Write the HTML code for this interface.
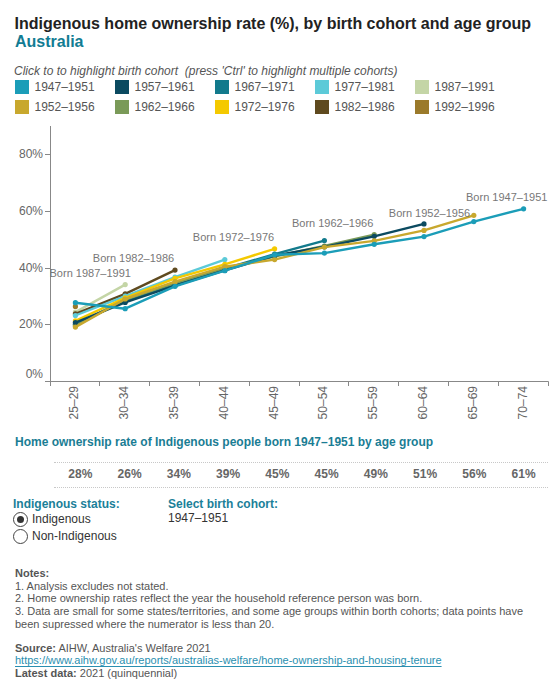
<!DOCTYPE html>
<html><head><meta charset="utf-8">
<style>
html,body{margin:0;padding:0;background:#fff;}
body{width:560px;height:700px;position:relative;overflow:hidden;font-family:"Liberation Sans",sans-serif;}
.abs{position:absolute;white-space:nowrap;}
.title{left:14.6px;top:15px;font-size:16px;line-height:18px;font-weight:bold;color:#222;}
.sub{left:15px;top:33px;font-size:16px;line-height:18px;font-weight:bold;color:#127c93;}
.click{left:14px;top:64px;font-size:12px;line-height:14px;font-style:italic;color:#555;}
.lg{position:absolute;height:14px;white-space:nowrap;}
.sw{position:absolute;left:0;top:0;width:14px;height:14px;}
.lt{position:absolute;left:19.5px;top:0;font-size:12px;line-height:14px;color:#555;}
svg{position:absolute;left:0;top:0;}
.ax{font-size:12px;fill:#666;font-family:"Liberation Sans",sans-serif;}
.lb{font-size:11px;fill:#777;font-family:"Liberation Sans",sans-serif;}
.h2{left:15px;top:435px;font-size:12px;line-height:14px;font-weight:bold;color:#1a7d94;}
.dot{position:absolute;left:54px;width:494px;height:0;border-top:1px dotted #c8c8c8;}
.tv{position:absolute;top:467px;width:49.25px;text-align:center;font-size:12px;line-height:14px;font-weight:bold;color:#666;}
.h3{font-size:12px;line-height:14px;font-weight:bold;color:#1b7f99;}
.rt{font-size:12px;line-height:14px;color:#333;}
.radio{position:absolute;width:13px;height:13px;border:1px solid #444;box-sizing:content-box;border-radius:50%;background:#fff;}
.radio.on::after{content:"";position:absolute;left:3px;top:3px;width:7px;height:7px;border-radius:50%;background:#333;}
.notes{left:15px;top:567px;font-size:11px;line-height:12.65px;color:#555;}
.src{left:15px;top:642px;font-size:11px;line-height:12.3px;color:#555;}
a{color:#2a8fb0;text-decoration:underline;text-underline-offset:2px;}
</style></head><body>
<div class="abs title">Indigenous home ownership rate (%), by birth cohort and age group</div>
<div class="abs sub">Australia</div>
<div class="abs click">Click to to highlight birth cohort &nbsp;(press 'Ctrl' to highlight multiple cohorts)</div>
<div class="lg" style="left:15px;top:80px"><span class="sw" style="background:#1b9db8"></span><span class="lt">1947–1951</span></div><div class="lg" style="left:115px;top:80px"><span class="sw" style="background:#0b4a60"></span><span class="lt">1957–1961</span></div><div class="lg" style="left:215px;top:80px"><span class="sw" style="background:#127a8c"></span><span class="lt">1967–1971</span></div><div class="lg" style="left:315px;top:80px"><span class="sw" style="background:#5ccad8"></span><span class="lt">1977–1981</span></div><div class="lg" style="left:415px;top:80px"><span class="sw" style="background:#c4d5a6"></span><span class="lt">1987–1991</span></div><div class="lg" style="left:15px;top:100px"><span class="sw" style="background:#c8a82e"></span><span class="lt">1952–1956</span></div><div class="lg" style="left:115px;top:100px"><span class="sw" style="background:#7a9a58"></span><span class="lt">1962–1966</span></div><div class="lg" style="left:215px;top:100px"><span class="sw" style="background:#f4c900"></span><span class="lt">1972–1976</span></div><div class="lg" style="left:315px;top:100px"><span class="sw" style="background:#5f4a1f"></span><span class="lt">1982–1986</span></div><div class="lg" style="left:415px;top:100px"><span class="sw" style="background:#9b7a2b"></span><span class="lt">1992–1996</span></div>
<svg width="560" height="430" viewBox="0 0 560 430">
<line x1="50.5" y1="126" x2="50.5" y2="381.5" stroke="#888" stroke-width="1"/>
<line x1="45" y1="381.5" x2="548.5" y2="381.5" stroke="#888" stroke-width="1"/>
<text x="43" y="378.0" text-anchor="end" class="ax">0%</text>
<line x1="45" y1="324.5" x2="50.5" y2="324.5" stroke="#888" stroke-width="1"/>
<text x="43" y="328.0" text-anchor="end" class="ax">20%</text>
<line x1="45" y1="268.5" x2="50.5" y2="268.5" stroke="#888" stroke-width="1"/>
<text x="43" y="272.0" text-anchor="end" class="ax">40%</text>
<line x1="45" y1="211.5" x2="50.5" y2="211.5" stroke="#888" stroke-width="1"/>
<text x="43" y="215.0" text-anchor="end" class="ax">60%</text>
<line x1="45" y1="154.5" x2="50.5" y2="154.5" stroke="#888" stroke-width="1"/>
<text x="43" y="158.0" text-anchor="end" class="ax">80%</text>
<line x1="50.5" y1="381.5" x2="50.5" y2="386" stroke="#888" stroke-width="1"/>
<line x1="99.5" y1="381.5" x2="99.5" y2="386" stroke="#888" stroke-width="1"/>
<line x1="149.5" y1="381.5" x2="149.5" y2="386" stroke="#888" stroke-width="1"/>
<line x1="199.5" y1="381.5" x2="199.5" y2="386" stroke="#888" stroke-width="1"/>
<line x1="249.5" y1="381.5" x2="249.5" y2="386" stroke="#888" stroke-width="1"/>
<line x1="299.5" y1="381.5" x2="299.5" y2="386" stroke="#888" stroke-width="1"/>
<line x1="348.5" y1="381.5" x2="348.5" y2="386" stroke="#888" stroke-width="1"/>
<line x1="398.5" y1="381.5" x2="398.5" y2="386" stroke="#888" stroke-width="1"/>
<line x1="448.5" y1="381.5" x2="448.5" y2="386" stroke="#888" stroke-width="1"/>
<line x1="498.5" y1="381.5" x2="498.5" y2="386" stroke="#888" stroke-width="1"/>
<line x1="548.5" y1="381.5" x2="548.5" y2="386" stroke="#888" stroke-width="1"/>
<text transform="translate(78.4,386) rotate(-90)" text-anchor="end" class="ax">25–29</text>
<text transform="translate(128.2,386) rotate(-90)" text-anchor="end" class="ax">30–34</text>
<text transform="translate(178.0,386) rotate(-90)" text-anchor="end" class="ax">35–39</text>
<text transform="translate(227.8,386) rotate(-90)" text-anchor="end" class="ax">40–44</text>
<text transform="translate(277.6,386) rotate(-90)" text-anchor="end" class="ax">45–49</text>
<text transform="translate(327.4,386) rotate(-90)" text-anchor="end" class="ax">50–54</text>
<text transform="translate(377.2,386) rotate(-90)" text-anchor="end" class="ax">55–59</text>
<text transform="translate(427.0,386) rotate(-90)" text-anchor="end" class="ax">60–64</text>
<text transform="translate(476.8,386) rotate(-90)" text-anchor="end" class="ax">65–69</text>
<text transform="translate(526.6,386) rotate(-90)" text-anchor="end" class="ax">70–74</text>
<circle cx="75.4" cy="306.4" r="2.6" fill="#9b7a2b"/>
<polyline points="75.4,312.1 125.2,284.6" fill="none" stroke="#c4d5a6" stroke-width="2.4" stroke-linejoin="round"/>
<circle cx="75.4" cy="312.1" r="2.6" fill="#c4d5a6"/>
<circle cx="125.2" cy="284.6" r="2.6" fill="#c4d5a6"/>
<polyline points="75.4,313.8 125.2,293.9 175.0,270.1" fill="none" stroke="#5f4a1f" stroke-width="2.4" stroke-linejoin="round"/>
<circle cx="75.4" cy="313.8" r="2.6" fill="#5f4a1f"/>
<circle cx="125.2" cy="293.9" r="2.6" fill="#5f4a1f"/>
<circle cx="175.0" cy="270.1" r="2.6" fill="#5f4a1f"/>
<polyline points="75.4,315.5 125.2,296.2 175.0,277.2 224.8,259.6" fill="none" stroke="#5ccad8" stroke-width="2.4" stroke-linejoin="round"/>
<circle cx="75.4" cy="315.5" r="2.6" fill="#5ccad8"/>
<circle cx="125.2" cy="296.2" r="2.6" fill="#5ccad8"/>
<circle cx="175.0" cy="277.2" r="2.6" fill="#5ccad8"/>
<circle cx="224.8" cy="259.6" r="2.6" fill="#5ccad8"/>
<polyline points="75.4,320.9 125.2,297.9 175.0,278.3 224.8,264.4 274.6,248.8" fill="none" stroke="#f4c900" stroke-width="2.4" stroke-linejoin="round"/>
<circle cx="75.4" cy="320.9" r="2.6" fill="#f4c900"/>
<circle cx="125.2" cy="297.9" r="2.6" fill="#f4c900"/>
<circle cx="175.0" cy="278.3" r="2.6" fill="#f4c900"/>
<circle cx="224.8" cy="264.4" r="2.6" fill="#f4c900"/>
<circle cx="274.6" cy="248.8" r="2.6" fill="#f4c900"/>
<polyline points="75.4,324.3 125.2,300.7 175.0,284.9 224.8,268.7 274.6,254.2 324.4,240.6" fill="none" stroke="#127a8c" stroke-width="2.4" stroke-linejoin="round"/>
<circle cx="75.4" cy="324.3" r="2.6" fill="#127a8c"/>
<circle cx="125.2" cy="300.7" r="2.6" fill="#127a8c"/>
<circle cx="175.0" cy="284.9" r="2.6" fill="#127a8c"/>
<circle cx="224.8" cy="268.7" r="2.6" fill="#127a8c"/>
<circle cx="274.6" cy="254.2" r="2.6" fill="#127a8c"/>
<circle cx="324.4" cy="240.6" r="2.6" fill="#127a8c"/>
<polyline points="75.4,325.7 125.2,299.6 175.0,283.2 224.8,268.4 274.6,256.5 324.4,246.0 374.2,234.6" fill="none" stroke="#7a9a58" stroke-width="2.4" stroke-linejoin="round"/>
<circle cx="75.4" cy="325.7" r="2.6" fill="#7a9a58"/>
<circle cx="125.2" cy="299.6" r="2.6" fill="#7a9a58"/>
<circle cx="175.0" cy="283.2" r="2.6" fill="#7a9a58"/>
<circle cx="224.8" cy="268.4" r="2.6" fill="#7a9a58"/>
<circle cx="274.6" cy="256.5" r="2.6" fill="#7a9a58"/>
<circle cx="324.4" cy="246.0" r="2.6" fill="#7a9a58"/>
<circle cx="374.2" cy="234.6" r="2.6" fill="#7a9a58"/>
<polyline points="75.4,322.6 125.2,302.4 175.0,285.7 224.8,270.4 274.6,255.6 324.4,246.8 374.2,236.3 424.0,223.9" fill="none" stroke="#0b4a60" stroke-width="2.4" stroke-linejoin="round"/>
<circle cx="75.4" cy="322.6" r="2.6" fill="#0b4a60"/>
<circle cx="125.2" cy="302.4" r="2.6" fill="#0b4a60"/>
<circle cx="175.0" cy="285.7" r="2.6" fill="#0b4a60"/>
<circle cx="224.8" cy="270.4" r="2.6" fill="#0b4a60"/>
<circle cx="274.6" cy="255.6" r="2.6" fill="#0b4a60"/>
<circle cx="324.4" cy="246.8" r="2.6" fill="#0b4a60"/>
<circle cx="374.2" cy="236.3" r="2.6" fill="#0b4a60"/>
<circle cx="424.0" cy="223.9" r="2.6" fill="#0b4a60"/>
<polyline points="75.4,327.1 125.2,299.0 175.0,281.7 224.8,266.7 274.6,259.6 324.4,247.1 374.2,240.9 424.0,230.4 473.8,215.3" fill="none" stroke="#c8a82e" stroke-width="2.4" stroke-linejoin="round"/>
<circle cx="75.4" cy="327.1" r="2.6" fill="#c8a82e"/>
<circle cx="125.2" cy="299.0" r="2.6" fill="#c8a82e"/>
<circle cx="175.0" cy="281.7" r="2.6" fill="#c8a82e"/>
<circle cx="224.8" cy="266.7" r="2.6" fill="#c8a82e"/>
<circle cx="274.6" cy="259.6" r="2.6" fill="#c8a82e"/>
<circle cx="324.4" cy="247.1" r="2.6" fill="#c8a82e"/>
<circle cx="374.2" cy="240.9" r="2.6" fill="#c8a82e"/>
<circle cx="424.0" cy="230.4" r="2.6" fill="#c8a82e"/>
<circle cx="473.8" cy="215.3" r="2.6" fill="#c8a82e"/>
<polyline points="75.4,302.7 125.2,308.7 175.0,286.3 224.8,270.7 274.6,254.8 324.4,253.1 374.2,244.3 424.0,236.6 473.8,221.6 523.6,208.8" fill="none" stroke="#1b9db8" stroke-width="2.4" stroke-linejoin="round"/>
<circle cx="75.4" cy="302.7" r="2.6" fill="#1b9db8"/>
<circle cx="125.2" cy="308.7" r="2.6" fill="#1b9db8"/>
<circle cx="175.0" cy="286.3" r="2.6" fill="#1b9db8"/>
<circle cx="224.8" cy="270.7" r="2.6" fill="#1b9db8"/>
<circle cx="274.6" cy="254.8" r="2.6" fill="#1b9db8"/>
<circle cx="324.4" cy="253.1" r="2.6" fill="#1b9db8"/>
<circle cx="374.2" cy="244.3" r="2.6" fill="#1b9db8"/>
<circle cx="424.0" cy="236.6" r="2.6" fill="#1b9db8"/>
<circle cx="473.8" cy="221.6" r="2.6" fill="#1b9db8"/>
<circle cx="523.6" cy="208.8" r="2.6" fill="#1b9db8"/>
<text x="130.9" y="277.0" text-anchor="end" class="lb">Born 1987–1991</text>
<text x="174.2" y="262.0" text-anchor="end" class="lb">Born 1982–1986</text>
<text x="274.2" y="241.2" text-anchor="end" class="lb">Born 1972–1976</text>
<text x="373.3" y="227.1" text-anchor="end" class="lb">Born 1962–1966</text>
<text x="470.2" y="217.0" text-anchor="end" class="lb">Born 1952–1956</text>
<text x="547.4" y="201.0" text-anchor="end" class="lb">Born 1947–1951</text>
</svg>
<div class="abs h2">Home ownership rate of Indigenous people born 1947–1951 by age group</div>
<div class="dot" style="top:462px"></div>
<div class="dot" style="top:487px"></div>
<div class="tv" style="left:55.70px">28%</div><div class="tv" style="left:104.95px">26%</div><div class="tv" style="left:154.20px">34%</div><div class="tv" style="left:203.45px">39%</div><div class="tv" style="left:252.70px">45%</div><div class="tv" style="left:301.95px">45%</div><div class="tv" style="left:351.20px">49%</div><div class="tv" style="left:400.45px">51%</div><div class="tv" style="left:449.70px">56%</div><div class="tv" style="left:498.95px">61%</div>
<div class="abs h3" style="left:13px;top:497px">Indigenous status:</div>
<div class="radio on" style="left:13.2px;top:512.2px"></div>
<div class="abs rt" style="left:32px;top:512px">Indigenous</div>
<div class="radio" style="left:13.2px;top:529.3px"></div>
<div class="abs rt" style="left:32px;top:529px">Non-Indigenous</div>
<div class="abs h3" style="left:168px;top:497px">Select birth cohort:</div>
<div class="abs rt" style="left:168px;top:511px">1947–1951</div>
<div class="abs notes"><b>Notes:</b><br>1. Analysis excludes not stated.<br>2. Home ownership rates reflect the year the household reference person was born.<br>3. Data are small for some states/territories, and some age groups within borth cohorts; data points have<br>been supressed where the numerator is less than 20.</div>
<div class="abs src"><b>Source:</b> AIHW, Australia's Welfare 2021<br><a>https://www.aihw.gov.au/reports/australias-welfare/home-ownership-and-housing-tenure</a><br><b>Latest data:</b> 2021 (quinquennial)</div>
</body></html>
